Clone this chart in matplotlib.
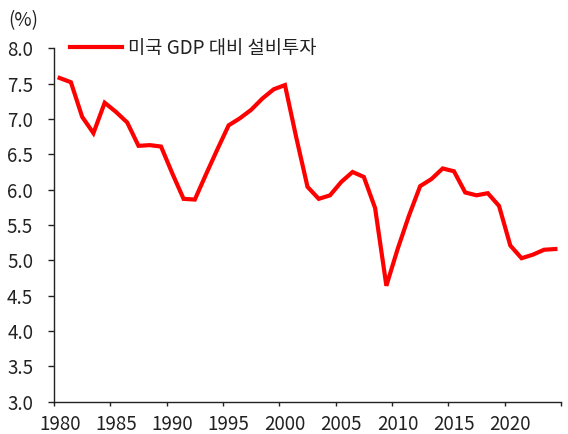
import numpy as np
import matplotlib
matplotlib.use('Agg')
import matplotlib.pyplot as plt
from matplotlib.ticker import FixedLocator, NullFormatter, FixedFormatter

plt.rcParams['font.family'] = ['Noto Sans CJK KR', 'DejaVu Sans']

# 미국 GDP 대비 설비투자 (%)
years = list(range(1980, 2025))
values = [7.58, 7.52, 7.03, 6.80, 7.23, 7.10, 6.95, 6.62, 6.63, 6.61,
          6.23, 5.87, 5.86, 6.22, 6.57, 6.91, 7.01, 7.13, 7.29, 7.42,
          7.48, 6.74, 6.04, 5.87, 5.92, 6.11, 6.25, 6.18, 5.74, 4.64,
          5.16, 5.63, 6.05, 6.15, 6.30, 6.26, 5.96, 5.92, 5.95, 5.77,
          5.21, 5.03, 5.08, 5.15, 5.16]
series_name = '미국 GDP 대비 설비투자'
label_years = [1980, 1985, 1990, 1995, 2000, 2005, 2010, 2015, 2020]
y_ticks = [3.0, 3.5, 4.0, 4.5, 5.0, 5.5, 6.0, 6.5, 7.0, 7.5, 8.0]

txt = '#222222'
fs = 13.5

fig = plt.figure(figsize=(5.68, 4.34), dpi=100)
ax = fig.add_axes([54 / 568, 1 - 401.7 / 434, 507 / 568, (401.7 - 48.3) / 434])

ax.plot(years, values, color='#ff0000', lw=3.0, solid_joinstyle='miter', label=series_name)

ax.set_xlim(1979.5, 2024.5)
ax.set_ylim(3.0, 8.0)

# ticks between categories, labels on the category
ax.xaxis.set_major_locator(FixedLocator(np.arange(1979.5, 2025, 5)))
ax.xaxis.set_major_formatter(NullFormatter())
ax.xaxis.set_minor_locator(FixedLocator(label_years))
ax.xaxis.set_minor_formatter(FixedFormatter([str(y) for y in label_years]))
ax.tick_params(axis='x', which='major', direction='out', length=3, width=1, color=txt)
ax.tick_params(axis='x', which='minor', length=0, pad=9, labelsize=fs, labelcolor=txt)

ax.set_yticks(y_ticks)
ax.set_yticklabels([f'{v:.1f}' for v in y_ticks])
ax.tick_params(axis='y', direction='out', length=4, width=1, color=txt, pad=11,
               labelsize=fs, labelcolor=txt)

for s in ['top', 'right']:
    ax.spines[s].set_visible(False)
for s in ['left', 'bottom']:
    ax.spines[s].set_color(txt)
    ax.spines[s].set_linewidth(1)

ax.legend(loc='center left', bbox_to_anchor=(16 / 507, 1.0), frameon=False,
          fontsize=fs, handlelength=2.75, handletextpad=0.35, borderpad=0,
          borderaxespad=0, labelcolor=txt)

fig.text(8 / 568, 1 - 21 / 434, '(%)', fontsize=fs, color=txt, va='center', ha='left')

fig.savefig('out.png', dpi=100)
